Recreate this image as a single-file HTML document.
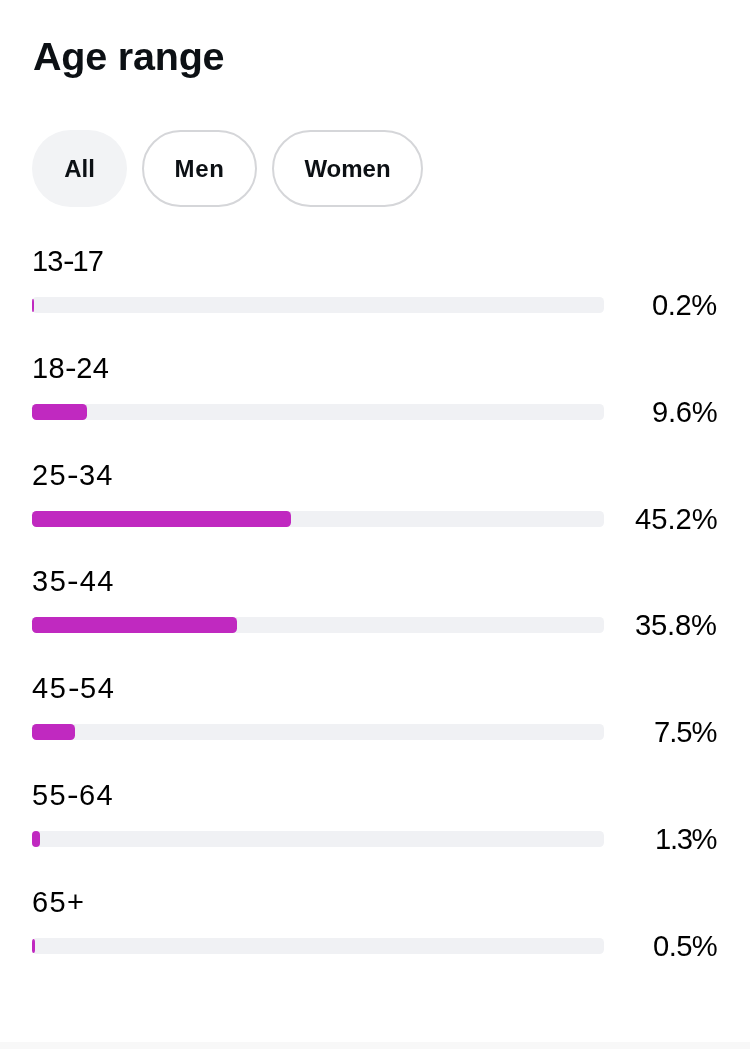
<!DOCTYPE html>
<html>
<head>
<meta charset="utf-8">
<style>
html,body{margin:0;padding:0;}
body{width:750px;height:1049px;background:#fff;position:relative;overflow:hidden;font-family:"Liberation Sans",sans-serif;color:#0c1014;}
.abs{position:absolute;white-space:nowrap;}
h1,.pill,.lab,.pct{will-change:transform;white-space:nowrap;}
h1{position:absolute;margin:0;left:33px;top:37px;font-size:39.5px;line-height:39px;letter-spacing:-0.2px;font-weight:bold;color:#0c1014;}
.pill{position:absolute;top:130px;height:77px;box-sizing:border-box;border-radius:38.5px;font-size:24px;font-weight:bold;line-height:73px;text-align:center;color:#0c1014;}
.p1{left:32px;width:95px;background:#f2f3f5;line-height:77px;}
.p2{left:142px;width:115px;border:2px solid #d5d6d9;}
.p2{letter-spacing:0.7px;}
.p3{left:272px;width:151px;border:2px solid #d5d6d9;}
.lab{position:absolute;left:32px;font-size:29px;line-height:29px;color:#000;}
.lab{letter-spacing:var(--ls);}
.h{display:inline-block;transform:scaleX(1.2);letter-spacing:0;margin-left:1.2px;margin-right:var(--ls);}
.pct{position:absolute;right:33.5px;font-size:29.2px;line-height:28px;color:#000;text-align:right;}
.track{position:absolute;left:32px;width:572px;height:16px;border-radius:4.5px;background:#f0f1f4;}
.bar{position:absolute;left:0;top:0;height:16px;border-radius:4.5px;background:#c029c0;}
.foot{position:absolute;left:0;top:1042px;width:750px;height:7px;background:#f8f8f8;}
</style>
</head>
<body>
<h1>Age range</h1>
<div class="pill p1">All</div>
<div class="pill p2">Men</div>
<div class="pill p3">Women</div>

<div class="lab" style="top:246.5px;--ls:-0.9px">13<span class="h">-</span>17</div>
<div class="track" style="top:297px"><div class="bar" style="width:1.6px;top:1.5px;height:13px;border-radius:50%/4px"></div></div>
<div class="pct" style="top:290.5px;letter-spacing:-0.4px;right:33.1px">0.2%</div>

<div class="lab" style="top:353.5px;--ls:0.37px">18<span class="h">-</span>24</div>
<div class="track" style="top:404px"><div class="bar" style="width:55px"></div></div>
<div class="pct" style="top:397.5px;letter-spacing:-0.3px;right:33px">9.6%</div>

<div class="lab" style="top:460.5px;--ls:1.25px">25<span class="h">-</span>34</div>
<div class="track" style="top:511px"><div class="bar" style="width:259px"></div></div>
<div class="pct" style="top:504.5px;letter-spacing:0px;right:32.7px">45.2%</div>

<div class="lab" style="top:566.5px;--ls:1.52px">35<span class="h">-</span>44</div>
<div class="track" style="top:617px"><div class="bar" style="width:205px"></div></div>
<div class="pct" style="top:610.5px;letter-spacing:-0.2px;right:32.9px">35.8%</div>

<div class="lab" style="top:673.5px;--ls:1.62px">45<span class="h">-</span>54</div>
<div class="track" style="top:724px"><div class="bar" style="width:43px"></div></div>
<div class="pct" style="top:717.5px;letter-spacing:-1px;right:33.7px">7.5%</div>

<div class="lab" style="top:780.5px;--ls:1.32px">55<span class="h">-</span>64</div>
<div class="track" style="top:831px"><div class="bar" style="width:7.7px"></div></div>
<div class="pct" style="top:824.5px;letter-spacing:-1.33px;right:34.03px">1.3%</div>

<div class="lab" style="top:887.5px;--ls:1.35px">65+</div>
<div class="track" style="top:938px"><div class="bar" style="width:3.4px;top:1px;height:14px;border-radius:50%/4px"></div></div>
<div class="pct" style="top:931.5px;letter-spacing:-0.6px;right:33.3px">0.5%</div>

<div class="foot"></div>
</body>
</html>
